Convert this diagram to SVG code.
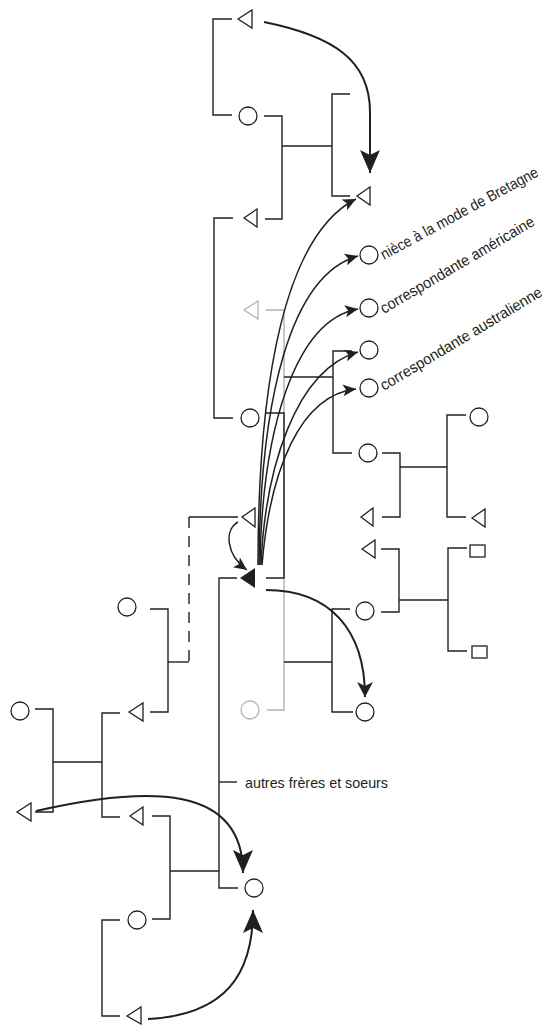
<svg xmlns="http://www.w3.org/2000/svg" width="552" height="1025" viewBox="0 0 552 1025">
<style>
.ln{fill:none;stroke:#231f20;stroke-width:1.4}
.gl{fill:none;stroke:#b3b3b3;stroke-width:1.4}
.nd{fill:#fff;stroke:#231f20;stroke-width:1.3}
.ng{fill:#fff;stroke:#b3b3b3;stroke-width:1.3}
.ar{fill:none;stroke:#231f20;stroke-width:2}
.af{fill:none;stroke:#231f20;stroke-width:1.5}
.lb{font-family:"Liberation Sans",Arial,sans-serif;font-size:15.5px;fill:#231f20}
</style>
<defs>
<marker id="ah" viewBox="-24 -11 25 22" markerWidth="25" markerHeight="22" refX="0" refY="0" orient="auto" markerUnits="userSpaceOnUse"><path d="M0,0 L-23,-10 L-18,0 L-23,10 Z" fill="#231f20"/></marker>
<marker id="am" viewBox="-16 -9 17 18" markerWidth="17" markerHeight="18" refX="0" refY="0" orient="auto" markerUnits="userSpaceOnUse"><path d="M0,0 L-15,-8 L-11,0 L-15,8 Z" fill="#231f20"/></marker>
<marker id="as" viewBox="-14 -7 15 14" markerWidth="15" markerHeight="14" refX="0" refY="0" orient="auto" markerUnits="userSpaceOnUse"><path d="M0,0 L-13,-6 L-10,0 L-13,6 Z" fill="#231f20"/></marker>
</defs>
<g id="connectors">
<path class="gl" d="M266,310 H284 V710 H267"/>
<path class="ln" d="M232,19 H213 V115 H232"/>
<path class="ln" d="M264,116 H282 V219 H265"/>
<path class="ln" d="M282,146 H332"/>
<path class="ln" d="M350,94 H332 V196 H350"/>
<path class="ln" d="M233,218 H214 V418 H233"/>
<path class="ln" d="M266,413 H284 V578 H266"/>
<path class="ln" d="M284,377 H333"/>
<path class="ln" d="M352,351 H333 V453 H352"/>
<path class="ln" d="M382,453 H400 V517 H382"/>
<path class="ln" d="M400,467 H447"/>
<path class="ln" d="M466,415 H447 V517 H466"/>
<path class="ln" d="M381,549 H399 V612 H381"/>
<path class="ln" d="M399,600 H448"/>
<path class="ln" d="M467,548 H448 V651 H467"/>
<path class="ln" d="M350,609 H332 V712 H353"/>
<path class="ln" d="M284,662 H332"/>
<path class="ln" d="M237,578 H219 V888 H238"/>
<path class="ln" d="M219,782 H237"/>
<path class="ln" d="M170,871 H219"/>
<path class="ln" d="M152,816 H170 V919 H152"/>
<path class="ln" d="M120,920 H102 V1016 H120"/>
<path class="ln" d="M238,517 H189"/>
<path class="ln" d="M189,517 V662" stroke-dasharray="11 8"/>
<path class="ln" d="M189,662 H168"/>
<path class="ln" d="M150,609 H168 V712 H150"/>
<path class="ln" d="M120,713 H102 V817 H120"/>
<path class="ln" d="M53,762 H102"/>
<path class="ln" d="M35,709 H53 V812 H35"/>
<path class="ar" d="M264,22 C333,36 370,60 370,112 L370,173" marker-end="url(#ah)" stroke-width="2.2"/>
<path class="af" d="M258,565 C258,380 285,235 356,199" marker-end="url(#as)"/>
<path class="af" d="M259,565 C260,400 290,275 358,256" marker-end="url(#as)"/>
<path class="af" d="M260,565 C262,430 295,320 358,309" marker-end="url(#as)"/>
<path class="af" d="M261,565 C265,470 295,370 358,352" marker-end="url(#as)"/>
<path class="af" d="M262,565 C270,470 300,395 356,389" marker-end="url(#as)" stroke-width="1.2"/>
<path class="af" d="M238,522 C224,530 226,555 247,570" marker-end="url(#as)"/>
<path class="ar" d="M266,590 C330,590 365,630 365,697" marker-end="url(#am)"/>
<path class="ar" d="M36,811 C150,785 243,785 243,873" marker-end="url(#ah)"/>
<path class="ar" d="M148,1019 C225,1015 253,975 253,910" marker-end="url(#ah)"/>
</g>
<g id="n-t1"><polygon class="nd" points="238,19 252,10 252,28"/></g>
<g id="n-c1"><circle class="nd" cx="248" cy="116" r="9"/></g>
<g id="n-t2"><polygon class="nd" points="244,218 257,209 257,227"/></g>
<g id="n-t3"><polygon class="nd" points="357,196 370,187 370,205"/></g>
<g id="n-gt"><polygon class="ng" points="244,310 258,301 258,319"/></g>
<g id="n-c2"><circle class="nd" cx="250" cy="418" r="9"/></g>
<g id="n-r1"><circle class="nd" cx="369" cy="255" r="9"/><text class="lb" transform="translate(384,260) rotate(-28.5)" textLength="177" lengthAdjust="spacingAndGlyphs">nièce à la mode de Bretagne</text></g>
<g id="n-r2"><circle class="nd" cx="369" cy="308" r="9"/><text class="lb" transform="translate(384,314) rotate(-30.5)" textLength="176" lengthAdjust="spacingAndGlyphs">correspondante américaine</text></g>
<g id="n-r3"><circle class="nd" cx="369" cy="350" r="9"/></g>
<g id="n-r4"><circle class="nd" cx="369" cy="388" r="9"/><text class="lb" transform="translate(384,391) rotate(-31)" textLength="186" lengthAdjust="spacingAndGlyphs">correspondante australienne</text></g>
<g id="n-r5"><circle class="nd" cx="368" cy="453" r="9"/></g>
<g id="n-r6"><polygon class="nd" points="361,517 373,508 373,526"/></g>
<g id="n-r7"><circle class="nd" cx="479" cy="417" r="9"/></g>
<g id="n-r8"><polygon class="nd" points="472,518 485,509 485,527"/></g>
<g id="n-r9"><polygon class="nd" points="362,549 375,540 375,558"/></g>
<g id="n-r10"><circle class="nd" cx="365" cy="611" r="9"/></g>
<g id="n-sq1"><rect class="nd" x="470" y="545" width="15" height="12"/></g>
<g id="n-sq2"><rect class="nd" x="472" y="646" width="15" height="12"/></g>
<g id="n-r11"><circle class="nd" cx="365" cy="712" r="9"/></g>
<g id="n-ego"><polygon points="240,578 255,568 255,588" fill="#231f20"/></g>
<g id="n-td"><polygon class="nd" points="242,517 255,508 255,527"/></g>
<g id="n-gc"><circle class="ng" cx="250" cy="710" r="9"/></g>
<g id="n-cl1"><circle class="nd" cx="127" cy="607" r="9"/></g>
<g id="n-tl1"><polygon class="nd" points="129,712 143,703 143,721"/></g>
<g id="n-cl2"><circle class="nd" cx="20" cy="711" r="9"/></g>
<g id="n-tl2"><polygon class="nd" points="17,812 31,803 31,821"/></g>
<g id="n-tl3"><polygon class="nd" points="130,816 143,807 143,825"/></g>
<g id="n-sib"><text class="lb" x="245" y="788" style="font-size:15px" textLength="143" lengthAdjust="spacingAndGlyphs">autres frères et soeurs</text></g>
<g id="n-target"><circle class="nd" cx="254" cy="888" r="9"/></g>
<g id="n-cl3"><circle class="nd" cx="137" cy="920" r="9"/></g>
<g id="n-tl4"><polygon class="nd" points="127,1016 141,1007 141,1024"/></g>
</svg>
